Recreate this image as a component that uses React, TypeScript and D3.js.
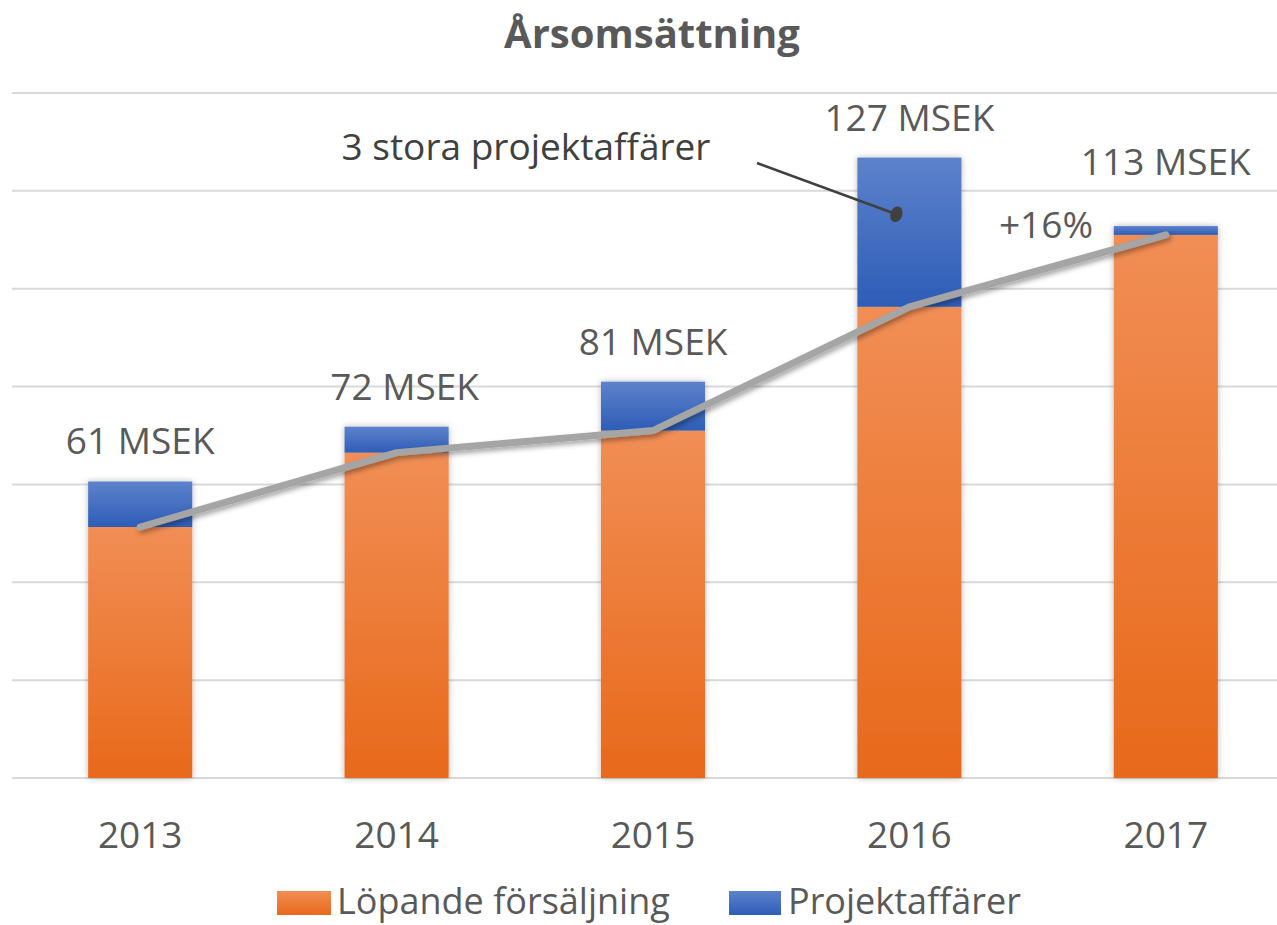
import React from 'react';
import * as d3 from 'd3';

const years = ['2013', '2014', '2015', '2016', '2017'];
const lopande = [51.3, 66.5, 71, 96.3, 111];
const projekt = [9.3, 5.3, 10, 30.5, 1.8];
const totalLabels = ['61 MSEK', '72 MSEK', '81 MSEK', '127 MSEK', '113 MSEK'];
const yTicks = [0, 20, 40, 60, 80, 100, 120, 140];

const W = 1277, H = 925;
const FONT = '"Open Sans", "Noto Sans", sans-serif';
const TXT = '#595959';

export default function App() {
    const x = d3.scaleBand<string>()
        .domain(years)
        .range([12, 1294])
        .paddingInner(0.594)
        .paddingOuter(0.297);
    const y = d3.scaleLinear().domain([0, 140]).range([778, 93]);
    const bw = x.bandwidth();
    const cx = (yr: string) => (x(yr) as number) + bw / 2;

    const line = d3.line<number>()
        .x((_, i) => cx(years[i]))
        .y(d => y(d));

    // annotation pointing into the 2016 project bar
    const annX = cx('2016') - 13;
    const annY = y(lopande[3] + projekt[3] * 0.62);

    return (
        <svg width={W} height={H} style={{ position: 'absolute', left: 0, top: 0, background: '#fff' }} fontFamily={FONT}>
            <defs>
                <linearGradient id="gOrange" x1="0" y1="0" x2="0" y2="1">
                    <stop offset="0" stopColor="#F18E55" />
                    <stop offset="1" stopColor="#E8691A" />
                </linearGradient>
                <linearGradient id="gBlue" x1="0" y1="0" x2="0" y2="1">
                    <stop offset="0" stopColor="#5D82CB" />
                    <stop offset="1" stopColor="#2E5DB7" />
                </linearGradient>
                <filter id="barShadow" x="-20%" y="-5%" width="140%" height="110%">
                    <feDropShadow dx="0" dy="0" stdDeviation="3" floodColor="#000" floodOpacity="0.28" />
                </filter>
                <filter id="lineShadow" x="-5%" y="-20%" width="110%" height="140%">
                    <feDropShadow dx="2" dy="3" stdDeviation="2.5" floodColor="#000" floodOpacity="0.35" />
                </filter>
            </defs>

            <text x={652} y={48} textAnchor="middle" fontSize={40} fontWeight="bold" fill={TXT}>Årsomsättning</text>

            {yTicks.map(t => (
                <line key={t} x1={12} x2={W} y1={y(t)} y2={y(t)} stroke="#D9D9D9" strokeWidth={2} />
            ))}

            {years.map((yr, i) => (
                <g key={yr} filter="url(#barShadow)">
                    <rect x={x(yr)} y={y(lopande[i])} width={bw} height={y(0) - y(lopande[i])} fill="url(#gOrange)" />
                    <rect x={x(yr)} y={y(lopande[i] + projekt[i])} width={bw}
                        height={y(lopande[i]) - y(lopande[i] + projekt[i])} fill="url(#gBlue)" />
                </g>
            ))}

            <path d={line(lopande) || ''} fill="none" stroke="#A5A5A5" strokeWidth={7}
                strokeLinecap="round" strokeLinejoin="round" filter="url(#lineShadow)" />

            {years.map((yr, i) => {
                const lift = i === 4 ? 51 : 27;
                return (
                    <text key={yr} x={cx(yr) + (i === 1 ? 8 : 0)} y={y(lopande[i] + projekt[i]) - lift}
                        textAnchor="middle" fontSize={37} fill={TXT}>{totalLabels[i]}</text>
                );
            })}

            {years.map(yr => (
                <text key={yr} x={cx(yr)} y={848} textAnchor="middle" fontSize={37} fill={TXT}>{yr}</text>
            ))}

            <text x={526} y={160} textAnchor="middle" fontSize={37} fill="#404040">3 stora projektaffärer</text>
            <line x1={757} y1={163} x2={annX} y2={annY} stroke="#404040" strokeWidth={2.5} />
            <ellipse cx={annX} cy={annY} rx={6} ry={8} transform={`rotate(20 ${annX} ${annY})`} fill="#404040" />

            <text x={1046} y={238} textAnchor="middle" fontSize={37} fill={TXT}>+16%</text>

            <g>
                <rect x={277} y={891} width={54} height={24} fill="url(#gOrange)" />
                <text x={337} y={914} fontSize={36} fill={TXT}>Löpande försäljning</text>
                <rect x={729} y={891} width={52} height={24} fill="url(#gBlue)" />
                <text x={788} y={914} fontSize={36} fill={TXT}>Projektaffärer</text>
            </g>
        </svg>
    );
}
